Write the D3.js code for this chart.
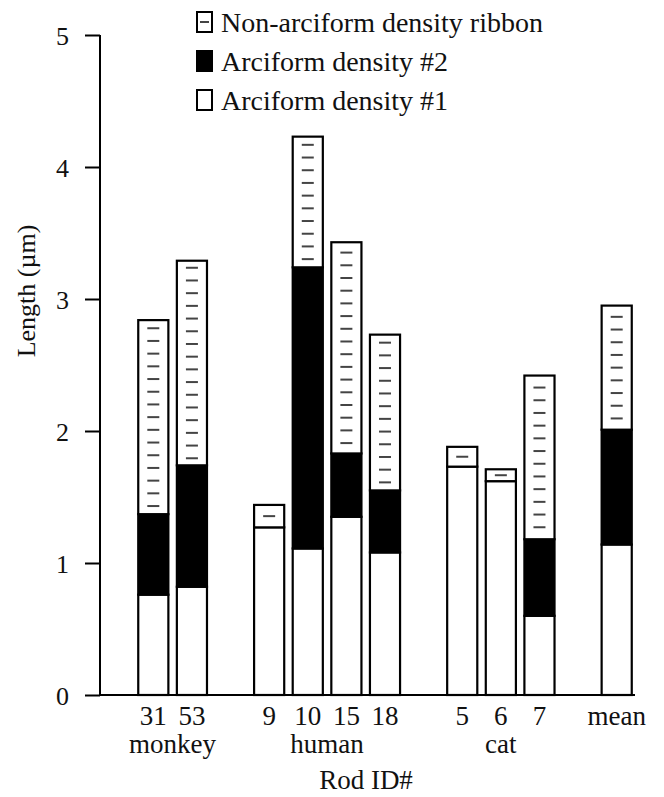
<!DOCTYPE html>
<html>
<head>
<meta charset="utf-8">
<script src="https://cdn.jsdelivr.net/npm/d3@7"></script>
<style>
  body { margin: 0; background: #fff; }
  text { font-family: "Liberation Serif", "Times New Roman", serif; fill: #111; }
</style>
</head>
<body>
<div id="chart"></div>
<script>
// bar ids, species groups and segment lengths (um)
var rodIds = ["31", "53", "9", "10", "15", "18", "5", "6", "7", "mean"];
var species = ["monkey", "monkey", "human", "human", "human", "human", "cat", "cat", "cat", ""];
var arciform1 = [0.76, 0.82, 1.27, 1.11, 1.35, 1.08, 1.73, 1.62, 0.60, 1.14];
var arciform2 = [0.61, 0.92, 0.00, 2.13, 0.48, 0.47, 0.00, 0.00, 0.58, 0.87];
var ribbon = [1.47, 1.55, 0.17, 0.99, 1.60, 1.18, 0.15, 0.09, 1.24, 0.94];
var groups = ["monkey", "human", "cat"];
var yTicks = [0, 1, 2, 3, 4, 5];
var legendLabels = ["Non-arciform density ribbon", "Arciform density #2", "Arciform density #1"];

var svgWidth = 664, svgHeight = 797;

var svg = d3.select("#chart").append("svg")
  .attr("width", svgWidth)
  .attr("height", svgHeight);

// slots: blank slots between species groups
var slots = ["31", "53", "g1", "9", "10", "15", "18", "g2", "5", "6", "7", "g3", "mean"];

var x = d3.scaleBand()
  .domain(slots)
  .range([134, 636])
  .paddingInner(0.22)
  .paddingOuter(0.11);

var y = d3.scaleLinear()
  .domain([0, 5])
  .range([695, 35]);

var rows = rodIds.map(function(id, i) {
  return { id: id, species: species[i], a1: arciform1[i], a2: arciform2[i], rib: ribbon[i] };
});

var stacked = d3.stack().keys(["a1", "a2", "rib"])(rows);
var fills = { a1: "#fff", a2: "#000", rib: "#fff" };

// bars
stacked.forEach(function(layer) {
  svg.append("g").selectAll("rect")
    .data(layer)
    .enter()
    .append("rect")
    .attr("x", d => x(d.data.id))
    .attr("y", d => y(d[1]))
    .attr("width", x.bandwidth())
    .attr("height", d => y(d[0]) - y(d[1]))
    .attr("fill", fills[layer.key])
    .attr("stroke", "#000")
    .attr("stroke-width", 2.2);
});

// dashes inside the ribbon segments
var dashGap = 12.7;
var ribLayer = stacked[2];
ribLayer.forEach(function(d) {
  var top = y(d[1]), bottom = y(d[0]);
  var h = bottom - top;
  var n = Math.max(1, Math.floor(h / dashGap));
  var mid = (top + bottom) / 2;
  var cx = x(d.data.id) + x.bandwidth() / 2;
  for (var k = 0; k < n; k++) {
    var yy = mid + (k - (n - 1) / 2) * dashGap;
    svg.append("line")
      .attr("x1", cx - 6).attr("x2", cx + 6)
      .attr("y1", yy).attr("y2", yy)
      .attr("stroke", "#444")
      .attr("stroke-width", 2);
  }
});

// y axis
var yAxis = d3.axisLeft(y).tickValues(yTicks).tickSize(15).tickPadding(16).tickFormat(d3.format("d"));
var gy = svg.append("g").attr("transform", "translate(100,0)").call(yAxis);
gy.select(".domain").attr("stroke", "#000").attr("stroke-width", 2).attr("d", "M0,35V695");
gy.selectAll(".tick line").attr("stroke", "#000").attr("stroke-width", 2);
gy.selectAll(".tick text")
  .style("font-family", "Liberation Serif, serif")
  .style("font-size", "26px")
  .attr("fill", "#111")
  .attr("dy", "0.36em");

// x axis line
svg.append("line")
  .attr("x1", 99).attr("x2", 635)
  .attr("y1", y(0)).attr("y2", y(0))
  .attr("stroke", "#000").attr("stroke-width", 2);

// category labels
svg.append("g").selectAll("text")
  .data(rodIds)
  .enter()
  .append("text")
  .attr("x", d => x(d) + x.bandwidth() / 2)
  .attr("y", 725)
  .attr("text-anchor", "middle")
  .style("font-size", "27px")
  .text(d => d);

// species labels centred under their groups
groups.forEach(function(g) {
  var ids = rodIds.filter((id, i) => species[i] === g);
  var x0 = x(ids[0]), x1 = x(ids[ids.length - 1]) + x.bandwidth();
  svg.append("text")
    .attr("x", (x0 + x1) / 2)
    .attr("y", 753)
    .attr("text-anchor", "middle")
    .style("font-size", "27px")
    .text(g);
});

// axis titles
svg.append("text")
  .attr("transform", "translate(35,291) rotate(-90)")
  .attr("text-anchor", "middle")
  .style("font-size", "26px")
  .text("Length (µm)");

svg.append("text")
  .attr("x", 366)
  .attr("y", 789)
  .attr("text-anchor", "middle")
  .style("font-size", "27px")
  .text("Rod ID#");

// legend
var legend = svg.append("g");
legendLabels.forEach(function(label, i) {
  var base = 32 + i * 39;
  legend.append("rect")
    .attr("x", 197).attr("y", base - 20)
    .attr("width", 15).attr("height", 20)
    .attr("fill", i === 1 ? "#000" : "#fff")
    .attr("stroke", "#000").attr("stroke-width", 2);
  if (i === 0) {
    legend.append("line")
      .attr("x1", 200).attr("x2", 209)
      .attr("y1", base - 10).attr("y2", base - 10)
      .attr("stroke", "#444").attr("stroke-width", 2);
  }
  legend.append("text")
    .attr("x", 221)
    .attr("y", base)
    .style("font-size", "28px")
    .text(label);
});
</script>
</body>
</html>
